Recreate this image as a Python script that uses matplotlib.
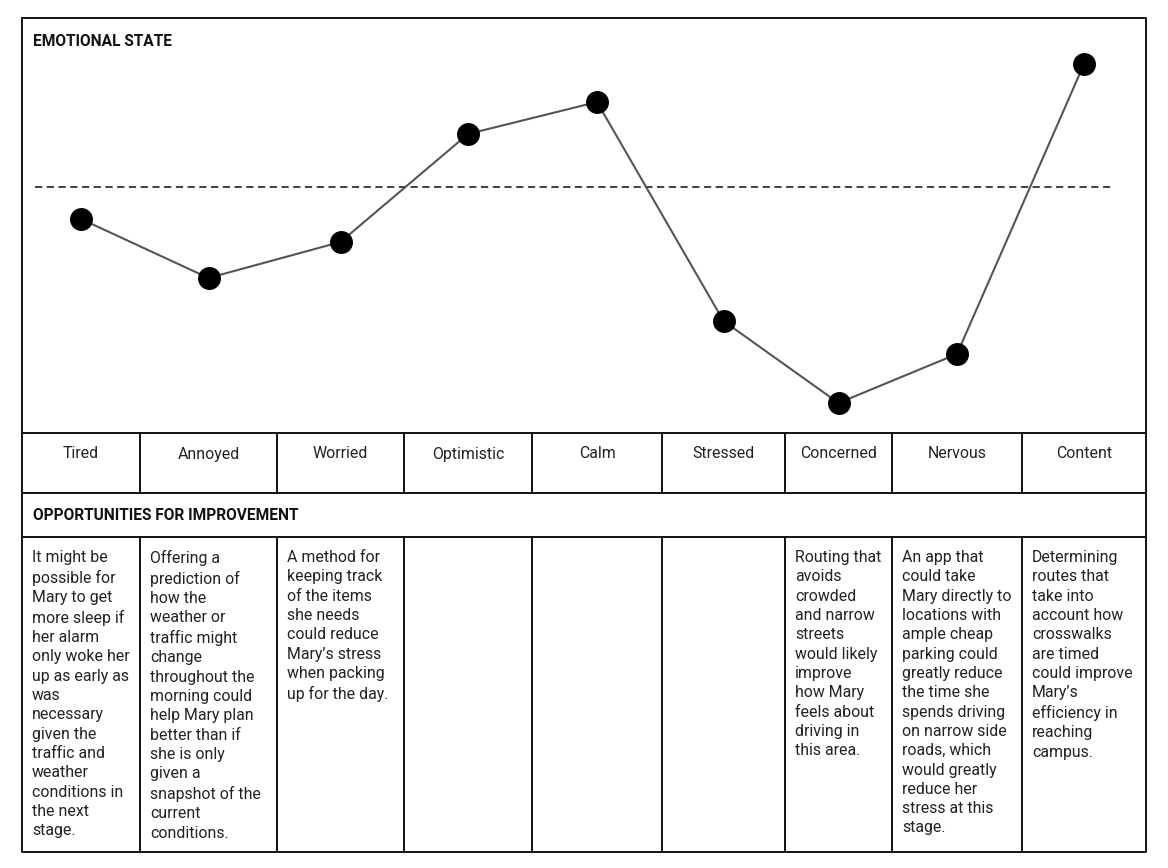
import matplotlib
matplotlib.use("Agg")
import matplotlib.pyplot as plt

plt.rcParams['font.family'] = ['Roboto', 'DejaVu Sans']

emotions = ["Tired", "Annoyed", "Worried", "Optimistic", "Calm",
            "Stressed", "Concerned", "Nervous", "Content"]
scores = [-32, -91, -55, 53, 85, -134, -216, -167, 123]
baseline = 0

opportunities = [
    "It might be\npossible for\nMary to get\nmore sleep if\nher alarm\nonly woke her\nup as early as\nwas\nnecessary\ngiven the\ntraffic and\nweather\nconditions in\nthe next\nstage.",
    "Offering a\nprediction of\nhow the\nweather or\ntraffic might\nchange\nthroughout the\nmorning could\nhelp Mary plan\nbetter than if\nshe is only\ngiven a\nsnapshot of the\ncurrent\nconditions.",
    "A method for\nkeeping track\nof the items\nshe needs\ncould reduce\nMary\u2019s stress\nwhen packing\nup for the day.",
    "", "", "",
    "Routing that\navoids\ncrowded\nand narrow\nstreets\nwould likely\nimprove\nhow Mary\nfeels about\ndriving in\nthis area.",
    "An app that\ncould take\nMary directly to\nlocations with\nample cheap\nparking could\ngreatly reduce\nthe time she\nspends driving\non narrow side\nroads, which\nwould greatly\nreduce her\nstress at this\nstage.",
    "Determining\nroutes that\ntake into\naccount how\ncrosswalks\nare timed\ncould improve\nMary\u2019s\nefficiency in\nreaching\ncampus.",
]

W, H = 1168, 868
fig = plt.figure(figsize=(W / 100, H / 100), dpi=100)

# layout (pixels)
col_edges = [22, 140, 277, 404, 532, 662, 785, 892, 1022, 1146]
top, row1, row2, row3, bottom = 18, 433, 493, 537, 852

base = fig.add_axes([0, 0, 1, 1])
base.set_xlim(0, W)
base.set_ylim(H, 0)
base.axis('off')

lc = '#111111'
lw = 1.4
# outer box
base.plot([col_edges[0], col_edges[-1], col_edges[-1], col_edges[0], col_edges[0]],
          [top, top, bottom, bottom, top], color=lc, lw=lw, solid_capstyle='projecting')
for y in (row1, row2, row3):
    base.plot([col_edges[0], col_edges[-1]], [y, y], color=lc, lw=lw)
for x in col_edges[1:-1]:
    base.plot([x, x], [row1, row2], color=lc, lw=lw)
    base.plot([x, x], [row3, bottom], color=lc, lw=lw)

base.text(33, 41.5, "EMOTIONAL STATE", fontsize=11.2, fontweight='bold',
          va='center', ha='left', color='#111111')
base.text(33, 515.5, "OPPORTUNITIES FOR IMPROVEMENT", fontsize=11.2, fontweight='bold',
          va='center', ha='left', color='#111111')

centers = [(a + b) / 2 for a, b in zip(col_edges[:-1], col_edges[1:])]
for cx, lab in zip(centers, emotions):
    base.text(cx, 454, lab, fontsize=11.4, ha='center', va='center', color='#222222')

for (a, b), txt in zip(zip(col_edges[:-1], col_edges[1:]), opportunities):
    if txt:
        base.text(a + 10, 550, txt, fontsize=11.4, ha='left', va='top',
                  linespacing=1.36, color='#222222')

# emotional chart axes
ax = fig.add_axes([col_edges[0] / W, 1 - row1 / H,
                   (col_edges[-1] - col_edges[0]) / W, (row1 - top) / H])
ax.set_xlim(col_edges[0], col_edges[-1])
ax.set_ylim(-246, 169)
ax.axis('off')
ax.plot([35, 1112], [baseline, baseline], color='#333333', lw=1.3,
        dashes=(4, 2.5))
ax.plot(centers, scores, color='#555555', lw=1.5, marker='o', markersize=15.5,
        markerfacecolor='black', markeredgecolor='black', zorder=3)

fig.savefig("out.png", dpi=100, facecolor='white')
